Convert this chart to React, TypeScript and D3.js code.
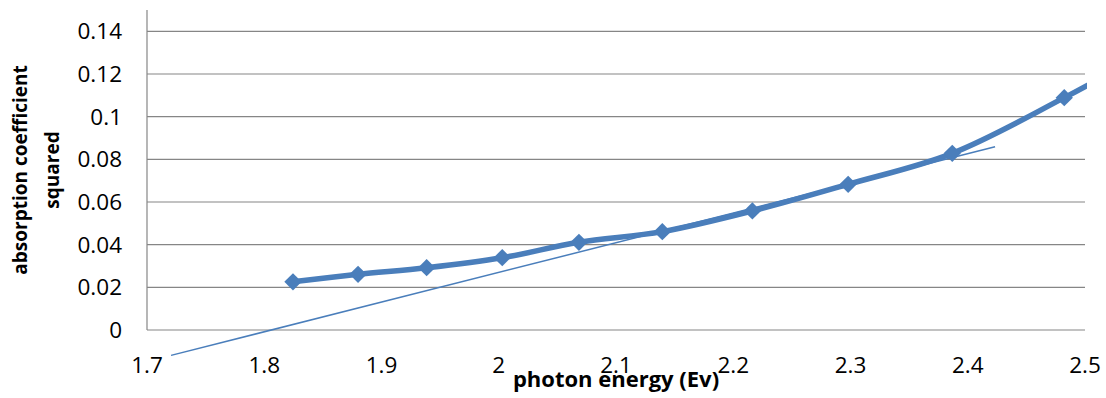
import React, { useEffect, useRef } from "react";
import * as d3 from "d3";

// measured points (photon energy, absorption coefficient squared)
const energy = [1.8245, 1.88, 1.9385, 2.003, 2.0684, 2.1395, 2.2163, 2.298, 2.3868, 2.4823, 2.575];
const alphaSq = [0.0226, 0.0261, 0.0292, 0.0339, 0.0411, 0.0461, 0.0558, 0.0683, 0.0828, 0.1089, 0.137];
// points beyond the axis max are clipped, markers only for visible ones
const trendX = [1.7205, 2.4233];
const trendY = [-0.0119, 0.0859];
const yTicks = [0, 0.02, 0.04, 0.06, 0.08, 0.1, 0.12, 0.14];
const xTicks = [1.7, 1.8, 1.9, 2, 2.1, 2.2, 2.3, 2.4, 2.5];

const BLUE = "#4A7EBB";
const FONT = "'Open Sans', 'Noto Sans', sans-serif";

const App = () => {
  const svgRef = useRef<SVGSVGElement>(null);

  useEffect(() => {
    document.body.style.margin = "0";
    const left = 147, right = 1085, top = 10, bottom = 330;
    const svg = d3.select(svgRef.current);
    svg.selectAll("*").remove();

    const x = d3.scaleLinear().domain([1.7, 2.5]).range([left, right]);
    const y = d3.scaleLinear().domain([0, 0.15]).range([bottom, top]);

    svg.append("defs").append("clipPath").attr("id", "plot")
      .append("rect").attr("x", left).attr("y", 0).attr("width", right - left + 2).attr("height", 398);

    // gridlines
    svg.append("g").selectAll("line").data(yTicks).enter().append("line")
      .attr("x1", left).attr("x2", right)
      .attr("y1", (d) => y(d)).attr("y2", (d) => y(d))
      .attr("stroke", "#868686").attr("stroke-width", 1.2);

    // y axis line
    svg.append("line").attr("x1", left).attr("x2", left).attr("y1", top).attr("y2", bottom)
      .attr("stroke", "#868686").attr("stroke-width", 1.2);

    // y tick labels
    svg.append("g").selectAll("text").data(yTicks).enter().append("text")
      .attr("x", 122).attr("y", (d) => y(d)).attr("dy", "0.36em")
      .attr("text-anchor", "end").attr("font-family", FONT).attr("font-size", 22.5).attr("fill", "#000")
      .text((d) => String(d));

    // x tick labels
    svg.append("g").selectAll("text").data(xTicks).enter().append("text")
      .attr("x", (d) => x(d)).attr("y", 373)
      .attr("text-anchor", "middle").attr("font-family", FONT).attr("font-size", 22.5).attr("fill", "#000")
      .text((d) => String(d));

    // trend line
    const line = d3.line<[number, number]>().x((d) => x(d[0])).y((d) => y(d[1]));
    svg.append("path")
      .datum(trendX.map((d, i) => [d, trendY[i]] as [number, number]))
      .attr("d", line).attr("fill", "none").attr("stroke", BLUE).attr("stroke-width", 1.5);

    // data line (smoothed)
    const pts = energy.map((d, i) => [d, alphaSq[i]] as [number, number]);
    const smooth = d3.line<[number, number]>().x((d) => x(d[0])).y((d) => y(d[1])).curve(d3.curveCatmullRom.alpha(0.5));
    svg.append("path").datum(pts).attr("clip-path", "url(#plot)")
      .attr("d", smooth).attr("fill", "none").attr("stroke", BLUE).attr("stroke-width", 5.5);

    // markers
    svg.append("g").selectAll("path").data(pts.filter((d) => d[0] <= 2.5)).enter().append("path")
      .attr("d", d3.symbol(d3.symbolSquare, 150)())
      .attr("transform", (d) => `translate(${x(d[0])},${y(d[1])}) rotate(45)`)
      .attr("fill", BLUE);

    // y axis title
    const yt = svg.append("text")
      .attr("transform", `translate(0,${(top + bottom) / 2}) rotate(-90)`)
      .attr("text-anchor", "middle").attr("font-family", FONT).attr("font-weight", "bold")
      .attr("font-size", 19).attr("fill", "#000");
    yt.append("tspan").attr("x", 0).attr("y", 27).text("absorption coefficient");
    yt.append("tspan").attr("x", 0).attr("y", 59).text("squared");

    // x axis title
    svg.append("text").attr("x", (left + right) / 2).attr("y", 387)
      .attr("text-anchor", "middle").attr("font-family", FONT).attr("font-weight", "bold")
      .attr("font-size", 22).attr("fill", "#000").text("photon energy (Ev)");
  }, []);

  return <svg ref={svgRef} width={1106} height={398} style={{ display: "block", background: "#fff" }}></svg>;
};

export default App;
